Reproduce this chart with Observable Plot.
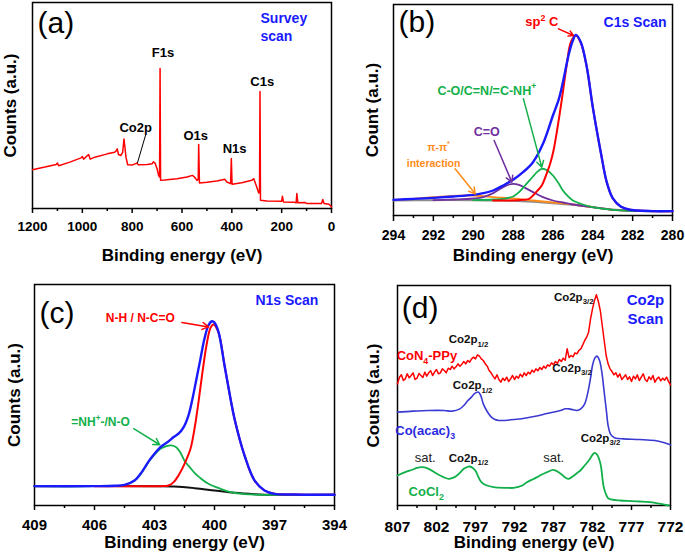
<!DOCTYPE html>
<html>
<head>
<meta charset="utf-8">
<script src="https://cdn.jsdelivr.net/npm/d3@7"></script>
<script src="https://cdn.jsdelivr.net/npm/@observablehq/plot@0.6"></script>
<style>
  body { margin: 0; background: #fff; }
  #fig { position: relative; width: 685px; height: 555px; overflow: hidden; background: #fff; }
  #fig svg { position: absolute; background: transparent !important; overflow: visible; }
</style>
</head>
<body>
<div id="fig"></div>
<script>
// ---------------- DATA ----------------
// (a) survey spectrum: [binding energy (eV), counts (a.u.)]
const survey = [[1200,117],[1150,125],[1105,133],[1100,137],[1095,129],[1050,140],[1005,153],[1000,157],[995,149],[975,163],[968,149],[950,155],[900,165],[870,170],[865,173],[860,180],[855,163],[845,160],[838,170],[833,210],[829,185],[825,155],[818,132],[800,131],[782,137],[775,132],[740,133],[720,135],[715,141],[708,137],[700,120],[694,100],[690,95],[688,423],[686,85],[670,86],[620,90],[580,95],[558,100],[550,95],[540,85],[535,88],[533,193],[530,77],[500,79],[460,83],[428,88],[420,80],[405,75],[402,151],[399,73],[360,78],[320,85],[312,90],[300,65],[292,47],[289,50],[287,353],[285,25],[260,23],[200,22],[197,37],[193,20],[150,19],[142,17],[139,45],[135,17],[105,18],[100,15],[40,15],[35,27],[30,15],[10,13],[2,7],[0,5]];
const aTicksMajor = [1200,1000,800,600,400,200,0];
const aTicksMinor = [1100,900,700,500,300,100];
const aPeakLabels = [{x:676,y:470,t:"F1s"},{x:278,y:383,t:"C1s"},{x:545,y:220,t:"O1s"},{x:389,y:180,t:"N1s"},{x:786,y:245,t:"Co2p"}];
const aPointer = [{x1:746,y1:222,x2:779,y2:137}];
const aScanLabels = [{x:285,y:575,t:"Survey"},{x:285,y:520,t:"scan"}];

// (b) C1s fit
const c1sEnvelope = [[294,47],[293,50],[292,53],[291,57],[290,62],[289.5,67],[289,75],[288.5,90],[288,107],[287.5,130],[287,160],[286.5,215],[286,300],[285.7,350],[285.5,400],[285.2,485],[285,525],[284.85,542],[284.6,520],[284.3,445],[284,325],[283.6,190],[283.3,100],[283,52],[282.6,27],[282.2,18],[281,13],[280,13]];
const c1sSp2 = [[289,45],[288,45],[287.5,47],[287.2,50],[287,60],[286.8,73],[286.56,90],[286.3,128],[286.14,155],[285.97,195],[285.7,290],[285.5,370],[285.3,455],[285.1,520],[284.85,540],[284.6,518],[284.3,445],[284,325],[283.6,190],[283.3,100],[283,52],[282.6,27],[282.2,18],[281,13],[280,13]];
const c1sCO = [[290,46],[289,48],[288.5,50],[288,57],[287.7,70],[287.4,90],[287,117],[286.8,130],[286.56,140],[286.3,136],[286,120],[285.7,95],[285.5,75],[285.2,55],[285,45],[284.5,33],[284,25],[283,17],[282,14],[280,13]];
const c1sCdO = [[292,46],[291,48],[290,51],[289.5,55],[289,67],[288.5,85],[288.2,93],[288,95],[287.7,92],[287.4,83],[287,70],[286.5,55],[286,45],[285.5,39],[285,33],[284,25],[283,17],[282,14],[280,13]];
const c1sPi = [[294,47],[293,50],[292,55],[291,59],[290.3,60],[290,60],[289.5,58],[289,55],[288,51],[287,45],[286,39],[285,33],[284,25],[283,17],[282,14],[280,13]];
const c1sBg = [[294,45],[292,46],[290,46],[289,45],[288,44],[287,41],[286,37],[285,32],[284,25],[283,18],[282,14],[281,13],[280,13]];
const bTicksMajor = [294,292,290,288,286,284,282,280];
const bTicksMinor = [293,291,289,287,285,283,281];

// (c) N1s fit
const n1sEnvelope = [[409,58],[406,58],[405,59],[404.5,62],[404,75],[403.7,95],[403.2,140],[402.7,175],[402.3,192],[402.04,205],[401.8,215],[401.54,235],[401.3,270],[401.1,320],[400.9,380],[400.7,440],[400.5,500],[400.3,540],[400.13,552],[400,548],[399.8,520],[399.5,420],[399.2,320],[399,260],[398.5,150],[398,75],[397.5,45],[397,35],[396,33],[394,32]];
const n1sNH = [[406,58],[402.7,58],[402.3,60],[402.04,70],[401.8,90],[401.6,112],[401.46,130],[401.2,170],[401,230],[400.8,310],[400.6,400],[400.4,480],[400.2,532],[400.05,542],[399.8,518],[399.5,420],[399.2,320],[399,260],[398.5,150],[398,75],[397.5,45],[397,35],[396,33],[394,32]];
const n1sNO = [[409,58],[406,58],[404.5,61],[404,74],[403.7,94],[403.2,138],[402.7,170],[402.4,178],[402.17,180],[401.9,174],[401.7,158],[401.46,130],[401.2,112],[401,98],[400.7,82],[400.3,65],[399.7,50],[399.2,40],[398.5,34],[397.5,32],[394,32]];
const n1sBg = [[409,58],[403,58],[402,57],[401,52],[400,45],[399,38],[398,34],[397,32],[394,32]];
const cTicksMajor = [409,406,403,400,397,394];
const cTicksMinor = [407.5,404.5,401.5,398.5,395.5];

// (d) Co2p spectra
const coN4PPy = [[807,365],[806.75,385],[806.5,392],[806.25,375],[806,380],[805.75,395],[805.5,383],[805.25,390],[805,398],[804.75,378],[804.5,382],[804.25,396],[804,390],[803.75,384],[803.5,400],[803.25,388],[803,398],[802.75,404],[802.5,390],[802.25,400],[802,408],[801.75,395],[801.5,398],[801.25,410],[801,405],[800.75,398],[800.5,412],[800.25,408],[800,418],[799.75,410],[799.5,416],[799.25,425],[799,418],[798.75,424],[798.5,432],[798.25,425],[798,435],[797.75,430],[797.5,440],[797.25,445],[797,440],[796.75,452],[796.5,448],[796.25,440],[796,435],[795.75,425],[795.5,418],[795.25,405],[795,398],[794.75,388],[794.5,380],[794.25,392],[794,378],[793.75,370],[793.5,382],[793.25,375],[793,385],[792.75,372],[792.5,380],[792.25,390],[792,378],[791.75,388],[791.5,382],[791.25,394],[791,386],[790.75,398],[790.5,390],[790.25,400],[790,395],[789.75,406],[789.5,400],[789.25,410],[789,404],[788.75,414],[788.5,408],[788.25,418],[788,412],[787.75,422],[787.5,418],[787.25,428],[787,422],[786.75,432],[786.5,426],[786.25,438],[786,432],[785.75,442],[785.5,436],[785.25,470],[785,444],[784.75,450],[784.5,446],[784.25,458],[784,455],[783.75,465],[783.5,470],[783.25,482],[783,495],[782.75,505],[782.5,520],[782.25,560],[782,590],[781.75,615],[781.5,632],[781.25,612],[781,585],[780.75,540],[780.5,495],[780.25,450],[780,425],[779.75,410],[779.5,402],[779.25,392],[779,398],[778.75,385],[778.5,395],[778.25,378],[778,385],[777.75,392],[777.5,378],[777.25,386],[777,372],[776.75,388],[776.5,380],[776.25,392],[776,375],[775.75,385],[775.5,395],[775.25,378],[775,372],[774.75,386],[774.5,378],[774.25,390],[774,370],[773.75,380],[773.5,385],[773.25,374],[773,382],[772.75,376],[772.5,385],[772.25,372],[772,362]];
const coAcac = [[807,280],[805,283],[803,285],[801,285],[800,283],[799,290],[798.5,300],[798,314],[797.5,326],[797.2,334],[796.9,339],[796.6,340],[796.3,328],[796,305],[795.5,282],[795,266],[794.5,258],[794,255],[792,258],[790,265],[788,275],[786,286],[785.5,290],[785,290],[784.5,287],[784,285],[783.5,290],[783,305],[782.5,350],[782.2,390],[782,420],[781.7,442],[781.4,448],[781.1,435],[780.8,400],[780.5,340],[780.2,280],[780,240],[779.7,215],[779.3,205],[779,202],[778,200],[776,198],[774,195],[773,190],[772,182]];
const coCl2 = [[807,90],[806,100],[805,108],[804.5,113],[803.75,115],[803,110],[802,96],[801,84],[800.45,80],[800,82],[799.5,88],[799,98],[798.5,110],[798,116],[797.76,117],[797.3,112],[797,104],[796.4,75],[796,65],[795.5,60],[794.7,55],[793,53],[792.1,53],[791,60],[790.4,70],[789.7,78],[789.1,85],[788.5,93],[787.8,100],[787.06,107],[786.5,102],[786,94],[785.5,84],[785.05,80],[784.5,88],[784,97],[783.55,105],[783,120],[782.48,135],[782,152],[781.75,158],[781.4,152],[780.98,125],[780.56,55],[780.2,30],[779.9,20],[779,16],[778.4,15],[776,12],[774,8],[772.2,0]];
const dTicksMajor = [807,802,797,792,787,782,777,772];
const dTicksMinor = [804.5,799.5,794.5,789.5,784.5,779.5,774.5];

// ---------------- STYLE ----------------
const FONT = "'Liberation Sans', Arial, Helvetica, sans-serif";
const RED = "#ff0000", BLUE = "#1a1aff", GREEN = "#12b04a", PURPLE = "#7030a0", ORANGE = "#ff8c1a", GRAY = "#8c8c8c";
const fig = document.getElementById("fig");
const X = d => d[0], Y = d => d[1];

function axes(major, minor, o) {
  return [
    Plot.frame({stroke: "#000", strokeWidth: 1.5}),
    Plot.axisX(major, {tickSize: o.tickSize, tickPadding: o.pad, tickFormat: d => `${d}`, fontSize: o.tickFont, fontWeight: "bold", label: null, strokeWidth: 1.5, fill: "#000"}),
    Plot.axisX(minor, {tickSize: 3, tickFormat: () => "", label: null, strokeWidth: 1.5}),
    Plot.text(["Binding energy (eV)"], {frameAnchor: "bottom", lineAnchor: "middle", textAnchor: "middle", dy: o.titleDy, fontSize: 17, fontWeight: "bold", fill: "#000"}),
    Plot.text([o.ylabel], {frameAnchor: "left", lineAnchor: "middle", textAnchor: "middle", rotate: -90, dx: o.ytitleDx, fontSize: 17, fontWeight: "bold", fill: "#000"})
  ];
}
function tag(x, y, t) {
  return Plot.text([{x, y, t}], {x: "x", y: "y", text: "t", fontSize: 30, fill: "#000"});
}
function place(svg, left, top) {
  svg.style.left = left + "px";
  svg.style.top = top + "px";
  fig.appendChild(svg);
  richText(svg);
}
function richText(svg) {
  svg.querySelectorAll("text").forEach(t => {
    const s = t.textContent;
    if (!/[_^]/.test(s)) return;
    const fs = parseFloat(getComputedStyle(t).fontSize) || 12;
    while (t.firstChild) t.removeChild(t.firstChild);
    const re = /([_^])(\{([^}]*)\}|(.))/g;
    let last = 0, m, shift = 0;
    const add = (str, kind) => {
      const sp = document.createElementNS("http://www.w3.org/2000/svg", "tspan");
      sp.textContent = str;
      const target = kind === "_" ? fs * 0.3 : kind === "^" ? -fs * 0.42 : 0;
      const dy = target - shift;
      if (dy) sp.setAttribute("dy", dy);
      shift = target;
      if (kind) sp.setAttribute("font-size", fs * 0.68);
      t.appendChild(sp);
    };
    while ((m = re.exec(s))) {
      if (m.index > last) add(s.slice(last, m.index), null);
      add(m[3] !== undefined ? m[3] : m[4], m[1]);
      last = re.lastIndex;
    }
    if (last < s.length) add(s.slice(last), null);
  });
}

// ---------------- (a) ----------------
place(Plot.plot({
  width: 340, height: 270, marginLeft: 32, marginRight: 9, marginTop: 2, marginBottom: 62,
  style: {fontFamily: FONT, background: "transparent", overflow: "visible"},
  x: {domain: [1200, 0], label: null},
  y: {domain: [0, 622], axis: null},
  marks: [
    ...axes(aTicksMajor, aTicksMinor, {tickSize: 5, pad: 8, tickFont: 13.5, titleDy: 47, ylabel: "Counts (a.u.)", ytitleDx: -22}),
    Plot.line(survey, {x: X, y: Y, stroke: RED, strokeWidth: 1.5}),
    Plot.link(aPointer, {x1: "x1", y1: "y1", x2: "x2", y2: "y2", stroke: "#000", strokeWidth: 1}),
    Plot.text(aPeakLabels, {x: "x", y: "y", text: "t", fontSize: 13, fontWeight: "bold", fill: "#000"}),
    Plot.text(aScanLabels, {x: "x", y: "y", text: "t", fontSize: 14, fontWeight: "bold", fill: BLUE, textAnchor: "start"}),
    tag(1106, 560, "(a)")
  ]
}), 0, 0);

// ---------------- (b) ----------------
place(Plot.plot({
  width: 345, height: 270, marginLeft: 53, marginRight: 13, marginTop: 4, marginBottom: 55,
  style: {fontFamily: FONT, background: "transparent", overflow: "visible"},
  x: {domain: [294, 280], label: null},
  y: {domain: [0, 633], axis: null},
  marks: [
    ...axes(bTicksMajor, bTicksMinor, {tickSize: 6, pad: 9, tickFont: 14, titleDy: 40, ylabel: "Count (a.u.)", ytitleDx: -21}),
    Plot.line(c1sBg, {x: X, y: Y, stroke: GRAY, strokeWidth: 2, curve: "catmull-rom"}),
    Plot.line(c1sPi, {x: X, y: Y, stroke: ORANGE, strokeWidth: 1.8, curve: "catmull-rom"}),
    Plot.line(c1sCdO, {x: X, y: Y, stroke: PURPLE, strokeWidth: 1.8, curve: "catmull-rom"}),
    Plot.line(c1sCO, {x: X, y: Y, stroke: GREEN, strokeWidth: 1.8, curve: "catmull-rom"}),
    Plot.line(c1sSp2, {x: X, y: Y, stroke: RED, strokeWidth: 2, curve: "catmull-rom"}),
    Plot.line(c1sEnvelope, {x: X, y: Y, stroke: BLUE, strokeWidth: 2.4, curve: "catmull-rom"}),
    Plot.arrow([{x1: 285.72, y1: 560, x2: 284.97, y2: 540}], {x1: "x1", y1: "y1", x2: "x2", y2: "y2", stroke: RED, strokeWidth: 1.5, headLength: 7}),
    Plot.arrow([{x1: 287.48, y1: 350, x2: 286.56, y2: 145}], {x1: "x1", y1: "y1", x2: "x2", y2: "y2", stroke: GREEN, strokeWidth: 1.5, headLength: 7}),
    Plot.arrow([{x1: 288.95, y1: 225, x2: 288.06, y2: 100}], {x1: "x1", y1: "y1", x2: "x2", y2: "y2", stroke: PURPLE, strokeWidth: 1.5, headLength: 7}),
    Plot.arrow([{x1: 290.91, y1: 140, x2: 289.9, y2: 65}], {x1: "x1", y1: "y1", x2: "x2", y2: "y2", stroke: ORANGE, strokeWidth: 1.5, headLength: 7}),
    Plot.text([{x: 286.56, y: 580, t: "sp^2 C"}], {x: "x", y: "y", text: "t", fontSize: 13, fontWeight: "bold", fill: RED}),
    Plot.text([{x: 281.88, y: 580, t: "C1s Scan"}], {x: "x", y: "y", text: "t", fontSize: 14, fontWeight: "bold", fill: BLUE}),
    Plot.text([{x: 289.32, y: 375, t: "C-O/C=N/=C-NH^+"}], {x: "x", y: "y", text: "t", fontSize: 12.5, fontWeight: "bold", fill: GREEN}),
    Plot.text([{x: 289.32, y: 250, t: "C=O"}], {x: "x", y: "y", text: "t", fontSize: 12.5, fontWeight: "bold", fill: PURPLE}),
    Plot.text([{x: 291.74, y: 205, t: "π-π^*"}, {x: 291.99, y: 155, t: "interaction"}], {x: "x", y: "y", text: "t", fontSize: 10.5, fontWeight: "bold", fill: ORANGE}),
    tag(292.83, 580, "(b)")
  ]
}), 340, 0);

// ---------------- (c) ----------------
place(Plot.plot({
  width: 340, height: 280, marginLeft: 34, marginRight: 6, marginTop: 9, marginBottom: 50,
  style: {fontFamily: FONT, background: "transparent", overflow: "visible"},
  x: {domain: [409, 394], label: null},
  y: {domain: [0, 662], axis: null},
  marks: [
    ...axes(cTicksMajor, cTicksMinor, {tickSize: 5, pad: 9, tickFont: 15, titleDy: 37, ylabel: "Counts (a.u.)", ytitleDx: -20}),
    Plot.line(n1sBg, {x: X, y: Y, stroke: "#111", strokeWidth: 2, curve: "catmull-rom"}),
    Plot.line(n1sNO, {x: X, y: Y, stroke: GREEN, strokeWidth: 1.8, curve: "catmull-rom"}),
    Plot.line(n1sNH, {x: X, y: Y, stroke: RED, strokeWidth: 2, curve: "catmull-rom"}),
    Plot.line(n1sEnvelope, {x: X, y: Y, stroke: BLUE, strokeWidth: 2.4, curve: "catmull-rom"}),
    Plot.arrow([{x1: 401.63, y1: 548, x2: 400.3, y2: 535}], {x1: "x1", y1: "y1", x2: "x2", y2: "y2", stroke: RED, strokeWidth: 1.5, headLength: 7}),
    Plot.arrow([{x1: 404.04, y1: 230, x2: 402.74, y2: 182}], {x1: "x1", y1: "y1", x2: "x2", y2: "y2", stroke: GREEN, strokeWidth: 1.5, headLength: 7}),
    Plot.text([{x: 403.71, y: 560, t: "N-H / N-C=O"}], {x: "x", y: "y", text: "t", fontSize: 12, fontWeight: "bold", fill: RED}),
    Plot.text([{x: 396.38, y: 615, t: "N1s Scan"}], {x: "x", y: "y", text: "t", fontSize: 14, fontWeight: "bold", fill: BLUE}),
    Plot.text([{x: 405.7, y: 250, t: "=NH^+-/N-O"}], {x: "x", y: "y", text: "t", fontSize: 12, fontWeight: "bold", fill: GREEN}),
    tag(407.87, 575, "(c)")
  ]
}), 0, 275);

// ---------------- (d) ----------------
place(Plot.plot({
  width: 345, height: 280, marginLeft: 57, marginRight: 15, marginTop: 10, marginBottom: 50,
  style: {fontFamily: FONT, background: "transparent", overflow: "visible"},
  x: {domain: [807, 772], label: null},
  y: {domain: [0, 660], axis: null},
  marks: [
    ...axes(dTicksMajor, dTicksMinor, {tickSize: 5, pad: 10, tickFont: 15.5, titleDy: 37, ylabel: "Counts (a.u.)", ytitleDx: -24}),
    Plot.line(coCl2, {x: X, y: Y, stroke: GREEN, strokeWidth: 1.8, curve: "catmull-rom"}),
    Plot.line(coAcac, {x: X, y: Y, stroke: "#3a3ad2", strokeWidth: 1.6, curve: "catmull-rom"}),
    Plot.line(coN4PPy, {x: X, y: Y, stroke: RED, strokeWidth: 1.5}),
    Plot.text([{x: 784.41, y: 625, t: "Co2p_{3/2}"}, {x: 797.89, y: 498, t: "Co2p_{1/2}"}, {x: 784.62, y: 412, t: "Co2p_{3/2}"}, {x: 797.37, y: 360, t: "Co2p_{1/2}"}, {x: 780.98, y: 203, t: "Co2p_{3/2}"}, {x: 797.89, y: 142, t: "Co2p_{1/2}"}],
      {x: "x", y: "y", text: "t", fontSize: 11.5, fontWeight: "bold", fill: "#111"}),
    Plot.text([{x: 803.45, y: 142, t: "sat."}, {x: 786.97, y: 142, t: "sat."}], {x: "x", y: "y", text: "t", fontSize: 13, fill: "#222"}),
    Plot.text([{x: 803.23, y: 450, t: "CoN_4-PPy"}], {x: "x", y: "y", text: "t", fontSize: 13, fontWeight: "bold", fill: RED}),
    Plot.text([{x: 803.45, y: 225, t: "Co(acac)_3"}], {x: "x", y: "y", text: "t", fontSize: 13, fontWeight: "bold", fill: "#2a2ae0"}),
    Plot.text([{x: 803.32, y: 42, t: "CoCl_2"}], {x: "x", y: "y", text: "t", fontSize: 13, fontWeight: "bold", fill: GREEN}),
    Plot.text([{x: 775.21, y: 615, t: "Co2p"}, {x: 775.21, y: 560, t: "Scan"}], {x: "x", y: "y", text: "t", fontSize: 15, fontWeight: "bold", fill: BLUE}),
    tag(804.09, 590, "(d)")
  ]
}), 340, 275);
</script>
</body>
</html>
